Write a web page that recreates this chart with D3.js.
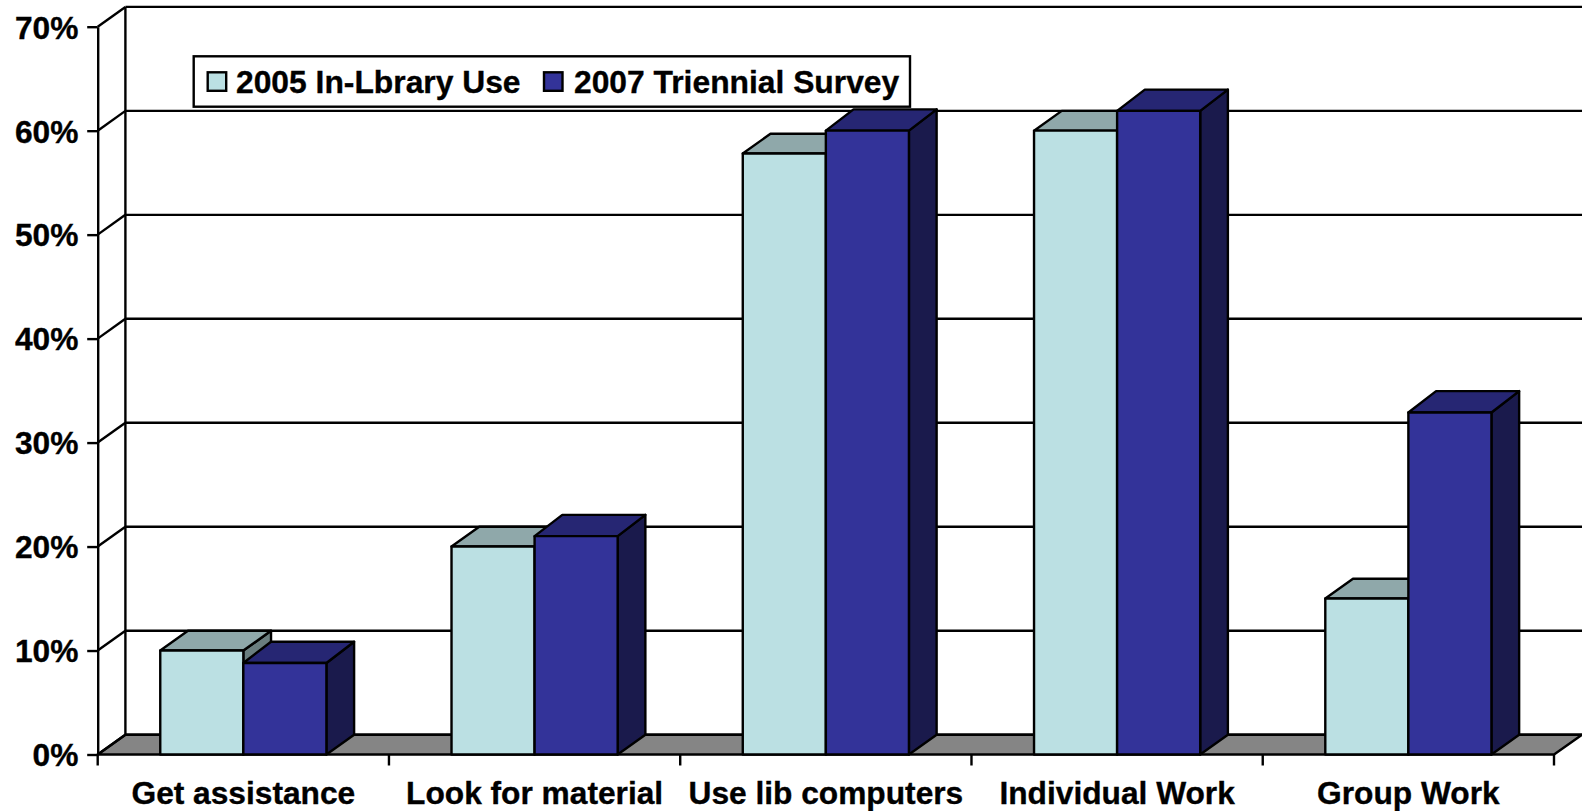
<!DOCTYPE html>
<html><head><meta charset="utf-8">
<script src="https://cdn.jsdelivr.net/npm/d3@7/dist/d3.min.js"></script>
<style>html,body{margin:0;padding:0;background:#fff;overflow:hidden}
svg{display:block}
text{font-family:"Liberation Sans",Arial,sans-serif;font-weight:bold;fill:#000;stroke:#000;stroke-width:0.35px}</style>
</head><body><svg id="c" width="1582" height="811"></svg>
<script>
const categories=["Get assistance","Look for material","Use lib computers","Individual Work","Group Work"];
const seriesNames=["2005 In-Lbrary Use","2007 Triennial Survey"];
const values2005=[10,20,57.8,60,15];
const values2007=[8.8,21,60,61.9,32.9];
const yTicks=[0,10,20,30,40,50,60,70];

const frontLeft=97.7, frontRight=1554, base=754.5, top70=26.7, dx=27.7, dy=-19.8, lw=2.4;
const colors=[{front:"#BBE0E3",top:"#8FA8AA",side:"#6A7E7F",depth:-19.8},{front:"#333399",top:"#262673",side:"#1A1A4C",depth:-21.3}];
const svg=d3.select("#c");
const y=d3.scaleLinear().domain([0,70]).range([base,top70]);
const x=d3.scaleBand().domain(categories).range([frontLeft,frontRight]);
const xs=d3.scaleBand().domain([0,1]).range([0,x.bandwidth()]).paddingInner(0).paddingOuter(0.753);

// floor
svg.append("polygon").attr("points",[[frontLeft,base],[frontLeft+dx,base+dy],[1582,base+dy],[frontRight,base]].join(" "))
  .attr("fill","#858585").attr("stroke","#000").attr("stroke-width",lw);

// back wall gridlines and slanted side-wall lines
const g=svg.append("g").attr("stroke","#000").attr("stroke-width",lw).attr("fill","none");
g.selectAll("line.grid").data(yTicks).join("line").attr("class","grid")
  .attr("x1",frontLeft+dx).attr("x2",1582).attr("y1",d=>y(d)+dy).attr("y2",d=>y(d)+dy);
g.selectAll("line.slant").data(yTicks).join("line").attr("class","slant")
  .attr("x1",frontLeft).attr("x2",frontLeft+dx).attr("y1",d=>y(d)).attr("y2",d=>y(d)+dy);
g.append("line").attr("x1",frontLeft+dx).attr("x2",frontLeft+dx).attr("y1",y(70)+dy).attr("y2",y(0)+dy);

// y axis
const ya=svg.append("g").attr("transform",`translate(${frontLeft},0)`)
  .call(d3.axisLeft(y).tickValues(yTicks).tickSize(10.5).tickSizeOuter(0).tickPadding(8.8).tickFormat(d=>d+"%"));
ya.selectAll("path,line").attr("stroke","#000").attr("stroke-width",lw);
ya.selectAll("text").attr("font-size",31.7).attr("font-family",'"Liberation Sans",Arial,sans-serif').attr("font-weight","bold").attr("fill","#000").attr("transform","translate(0,1.2)");

// x axis
const xa=svg.append("g").attr("transform",`translate(0,${base})`)
  .call(d3.axisBottom(x).tickSize(0).tickPadding(27));
xa.select("path").remove();
xa.selectAll("text").attr("font-size",31.7).attr("font-family",'"Liberation Sans",Arial,sans-serif').attr("font-weight","bold").attr("fill","#000");
const boundaries=categories.map(c=>x(c)).concat(frontRight);
svg.append("g").selectAll("line").data(boundaries).join("line")
  .attr("x1",d=>d).attr("x2",d=>d).attr("y1",base).attr("y2",base+11)
  .attr("stroke","#000").attr("stroke-width",lw);

// bars
categories.forEach((c,i)=>{
  [values2005[i],values2007[i]].forEach((v,s)=>{
    const col=colors[s], d2=col.depth;
    const x0=x(c)+xs(s), x1=x0+xs.bandwidth(), y0=y(v), yb=y(0);
    const b=svg.append("g").attr("stroke","#000").attr("stroke-width",lw).attr("stroke-linejoin","round");
    b.append("polygon").attr("points",[[x1,y0],[x1+dx,y0+d2],[x1+dx,yb+dy],[x1,yb]].join(" ")).attr("fill",col.side);
    b.append("polygon").attr("points",[[x0,y0],[x0+dx,y0+d2],[x1+dx,y0+d2],[x1,y0]].join(" ")).attr("fill",col.top);
    b.append("rect").attr("x",x0).attr("y",y0).attr("width",x1-x0).attr("height",yb-y0).attr("fill",col.front);
  });
});

// legend
const lg=svg.append("g");
lg.append("rect").attr("x",193.7).attr("y",56.3).attr("width",716.3).attr("height",50.4)
  .attr("fill","#fff").attr("stroke","#000").attr("stroke-width",lw);
const lx=[207.7,544], tx=[236,574];
seriesNames.forEach((n,i)=>{
  lg.append("rect").attr("x",lx[i]).attr("y",72.3).attr("width",18.5).attr("height",18.5)
    .attr("fill",colors[i].front).attr("stroke","#000").attr("stroke-width",lw);
  lg.append("text").attr("x",tx[i]).attr("y",93).attr("font-size",31.8).text(n);
});
</script></body></html>
